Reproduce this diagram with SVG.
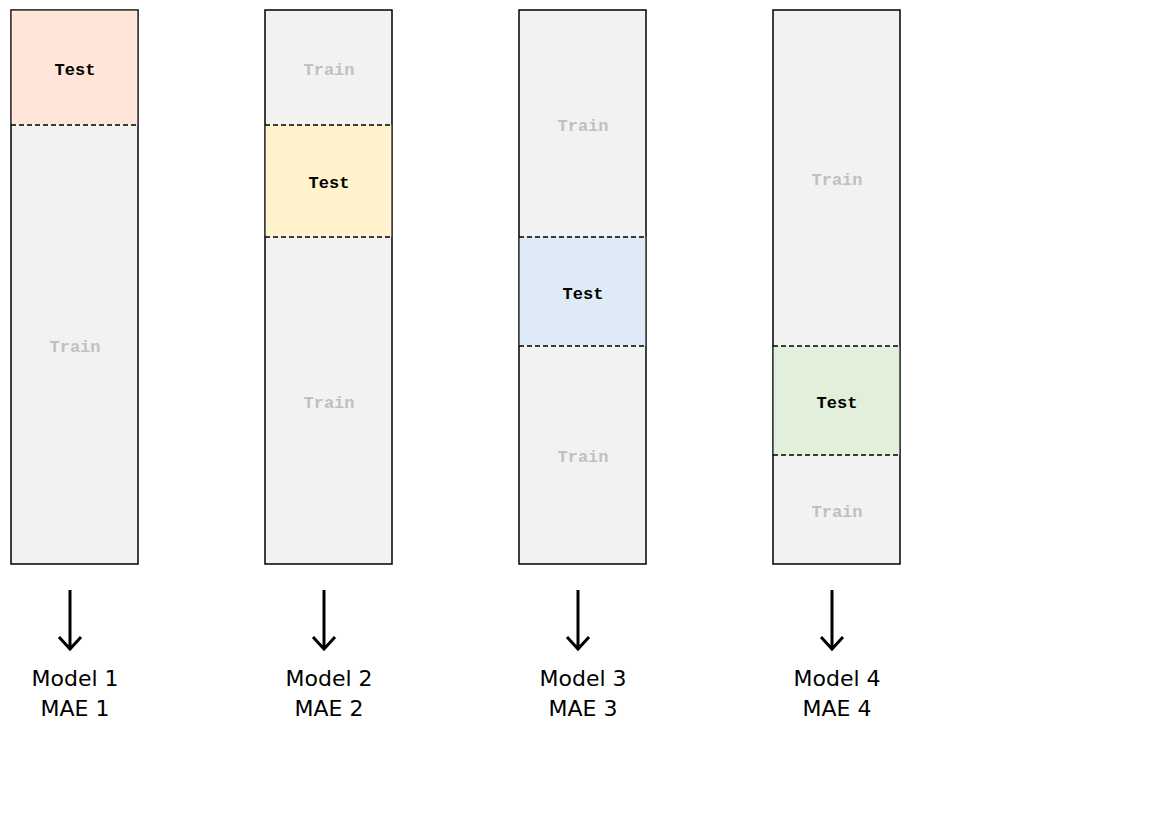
<svg xmlns="http://www.w3.org/2000/svg" width="1168" height="822" viewBox="0 0 1168 822">
<style>
.col{fill:#f2f2f2;stroke:#000;stroke-width:1.5}
.div{stroke:#000;stroke-width:1.5;stroke-dasharray:5,3}
.tr{font-family:"Liberation Mono",monospace;font-weight:bold;font-size:17px;fill:#c0c0c0;text-anchor:middle}
.te{font-family:"Liberation Mono",monospace;font-weight:bold;font-size:17px;fill:#000;text-anchor:middle}
.lb{font-family:"DejaVu Sans",sans-serif;font-size:22px;fill:#000;text-anchor:middle}
.ar{stroke:#000;stroke-width:3;fill:none}
</style>
<rect width="1168" height="822" fill="#fff"/>
<g id="fold1">
<rect class="col" x="11" y="10" width="127" height="554"/>
<rect x="11.75" y="10.75" width="125.5" height="114.25" fill="#ffe6d9"/>
<line class="div" x1="11" y1="125" x2="138" y2="125"/>
<text class="te" x="75" y="75">Test</text>
<text class="tr" x="75" y="352">Train</text>
</g>
<g id="fold2">
<rect class="col" x="265" y="10" width="127" height="554"/>
<rect x="265.75" y="125" width="125.5" height="112" fill="#fff2cc"/>
<line class="div" x1="265" y1="125" x2="392" y2="125"/>
<line class="div" x1="265" y1="237" x2="392" y2="237"/>
<text class="tr" x="329" y="75">Train</text>
<text class="te" x="329" y="188">Test</text>
<text class="tr" x="329" y="408">Train</text>
</g>
<g id="fold3">
<rect class="col" x="519" y="10" width="127" height="554"/>
<rect x="519.75" y="237" width="125.5" height="109" fill="#deebf6"/>
<line class="div" x1="519" y1="237" x2="646" y2="237"/>
<line class="div" x1="519" y1="346" x2="646" y2="346"/>
<text class="tr" x="583" y="131">Train</text>
<text class="te" x="583" y="299">Test</text>
<text class="tr" x="583" y="462">Train</text>
</g>
<g id="fold4">
<rect class="col" x="773" y="10" width="127" height="554"/>
<rect x="773.75" y="346" width="125.5" height="109" fill="#e2efda"/>
<line class="div" x1="773" y1="346" x2="900" y2="346"/>
<line class="div" x1="773" y1="455" x2="900" y2="455"/>
<text class="tr" x="837" y="185">Train</text>
<text class="te" x="837" y="408">Test</text>
<text class="tr" x="837" y="517">Train</text>
</g>
<g id="connectors">
<path class="ar" d="M70 590V649M59 637L70 649L81 637"/>
<path class="ar" d="M324 590V649M313 637L324 649L335 637"/>
<path class="ar" d="M578 590V649M567 637L578 649L589 637"/>
<path class="ar" d="M832 590V649M821 637L832 649L843 637"/>
</g>
<g id="labels">
<text class="lb" x="75" y="686">Model 1</text><text class="lb" x="75" y="716">MAE 1</text>
<text class="lb" x="329" y="686">Model 2</text><text class="lb" x="329" y="716">MAE 2</text>
<text class="lb" x="583" y="686">Model 3</text><text class="lb" x="583" y="716">MAE 3</text>
<text class="lb" x="837" y="686">Model 4</text><text class="lb" x="837" y="716">MAE 4</text>
</g>
</svg>
